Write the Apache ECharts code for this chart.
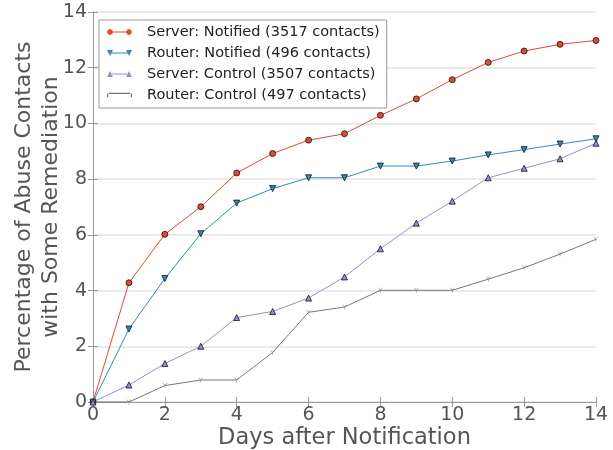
<!DOCTYPE html>
<html>
<head>
<meta charset="utf-8">
<script src="https://cdn.jsdelivr.net/npm/echarts@6/dist/echarts.min.js"></script>
<style>
  html, body { margin: 0; padding: 0; background: #fff; }
  #main { width: 613px; height: 450px; }
</style>
</head>
<body>
<div id="main"></div>
<script>
const days = [0, 1, 2, 3, 4, 5, 6, 7, 8, 9, 10, 11, 12, 13, 14];
const serverNotified = [0, 4.28, 6.02, 7.01, 8.22, 8.92, 9.40, 9.63, 10.29, 10.88, 11.57, 12.19, 12.60, 12.84, 12.98];
const routerNotified = [0, 2.62, 4.43, 6.04, 7.14, 7.66, 8.05, 8.05, 8.47, 8.47, 8.65, 8.87, 9.06, 9.26, 9.45];
const serverControl = [0, 0.61, 1.38, 2.00, 3.03, 3.25, 3.73, 4.49, 5.50, 6.42, 7.21, 8.05, 8.39, 8.73, 9.29];
const routerControl = [0, 0, 0.59, 0.79, 0.79, 1.78, 3.22, 3.41, 4.01, 4.01, 4.01, 4.41, 4.82, 5.31, 5.84];
const xTicks = [0, 2, 4, 6, 8, 10, 12, 14];
const yTicks = [0, 2, 4, 6, 8, 10, 12, 14];

const textColor = "#555555";
const font = "DejaVu Sans";

const toPairs = (vals) => vals.map((v, i) => [days[i], v]);

// legend icons: a line with a marker on both ends
const lineBar = "M4,3.5 L21,3.5 L21,4.5 L4,4.5 Z ";
const iconCircle = "path://" + lineBar +
  "M0,4 L0.9,1.9 L3,1 L5.1,1.9 L6,4 L5.1,6.1 L3,7 L0.9,6.1 Z " +
  "M19,4 L19.9,1.9 L22,1 L24.1,1.9 L25,4 L24.1,6.1 L22,7 L19.9,6.1 Z";
const iconDown = "path://" + lineBar + "M0,1 L6,1 L3,7 Z M19,1 L25,1 L22,7 Z";
const iconUp = "path://" + lineBar + "M0,7 L6,7 L3,1 Z M19,7 L25,7 L22,1 Z";
const iconTick = "path://" + lineBar + "M2.5,4 L3.5,4 L3.5,7 L2.5,7 Z M21.5,4 L22.5,4 L22.5,7 L21.5,7 Z";
const triTick = "path://M4.5,4 L5.5,4 L5.5,10 L4.5,10 Z M0,0 L1,0 L5.5,4.5 L4.5,5 Z M9,0 L10,0 L5.5,5 L4.5,4.5 Z";

const chart = echarts.init(document.getElementById("main"));

const mkSeries = (name, data, color, symbol, size) => ({
  name: name,
  type: "line",
  data: toPairs(data),
  symbol: symbol,
  symbolSize: size,
  showAllSymbol: true,
  clip: false,
  lineStyle: { color: color, width: 1 },
  itemStyle: { color: color, borderColor: symbol === triTick ? color : "#111", borderWidth: symbol === triTick ? 0 : 0.8 },
  emphasis: { disabled: true },
  z: 3,
});

const option = {
  animation: false,
  backgroundColor: "#fff",
  textStyle: { fontFamily: font },
  grid: { left: 93, right: 17, top: 12, bottom: 48, containLabel: false, outerBoundsMode: "none" },
  legend: {
    orient: "vertical",
    left: 99,
    top: 20,
    padding: [4, 7, 5, 8],
    itemGap: 5,
    itemWidth: 25,
    itemHeight: 8,
    borderColor: "#9a9a9a",
    borderWidth: 1,
    backgroundColor: "#fff",
    textStyle: { color: "#222", fontSize: 14.5, fontFamily: font, lineHeight: 16, padding: [0, 0, 0, 10] },
    data: [
      { name: "Server: Notified (3517 contacts)", icon: iconCircle, itemStyle: { borderWidth: 0 } },
      { name: "Router: Notified (496 contacts)", icon: iconDown, itemStyle: { borderWidth: 0 } },
      { name: "Server: Control (3507 contacts)", icon: iconUp, itemStyle: { borderWidth: 0 } },
      { name: "Router: Control (497 contacts)", icon: iconTick, itemStyle: { borderWidth: 0 } },
    ],
  },
  xAxis: [
    {
      type: "value",
      min: 0,
      max: 14,
      interval: 2,
      name: "Days after Notification",
      nameLocation: "middle",
      nameGap: 25,
      nameMoveOverlap: false,
      nameTextStyle: { color: textColor, fontSize: 22.5, fontFamily: font },
      axisLine: { show: true, lineStyle: { color: "#999", width: 1 } },
      axisTick: { show: true, inside: true, length: 5, lineStyle: { color: "#999" } },
      axisLabel: { color: textColor, fontSize: 19, margin: 4, fontFamily: font },
      splitLine: { show: false },
    },
    {
      type: "value",
      position: "top",
      min: 0,
      max: 14,
      interval: 2,
      axisLine: { show: true, lineStyle: { color: "#999", width: 1 } },
      axisTick: { show: true, inside: true, length: 5, lineStyle: { color: "#999" } },
      axisLabel: { show: false },
      splitLine: { show: false },
    },
  ],
  yAxis: [
    {
      type: "value",
      min: 0,
      max: 14,
      interval: 2,
      name: "Percentage of Abuse Contacts\nwith Some Remediation",
      nameLocation: "middle",
      nameGap: 28,
      nameMoveOverlap: false,
      nameTextStyle: { color: textColor, fontSize: 22, lineHeight: 27, fontFamily: font },
      axisLine: { show: true, lineStyle: { color: "#999", width: 1 } },
      axisTick: { show: true, inside: true, length: 5, lineStyle: { color: "#999" } },
      axisLabel: { color: textColor, fontSize: 19, margin: 6, fontFamily: font },
      splitLine: { show: true, lineStyle: { color: "#e3e3e3", width: 1.5 } },
    },
    {
      type: "value",
      position: "right",
      min: 0,
      max: 14,
      interval: 2,
      axisLine: { show: true, lineStyle: { color: "#999", width: 1 } },
      axisTick: { show: true, inside: true, length: 5, lineStyle: { color: "#999" } },
      axisLabel: { show: false },
      splitLine: { show: false },
    },
  ],
  series: [
    mkSeries("Server: Notified (3517 contacts)", serverNotified, "#E24A33", "circle", 6),
    mkSeries("Router: Notified (496 contacts)", routerNotified, "#348ABD", "triangle", 6),
    mkSeries("Server: Control (3507 contacts)", serverControl, "#988ED5", "triangle", 6),
    mkSeries("Router: Control (497 contacts)", routerControl, "#777777", triTick, 5),
  ],
};

// router notified uses downward triangles
option.series[1].symbolRotate = 180;

chart.setOption(option);
</script>
</body>
</html>
